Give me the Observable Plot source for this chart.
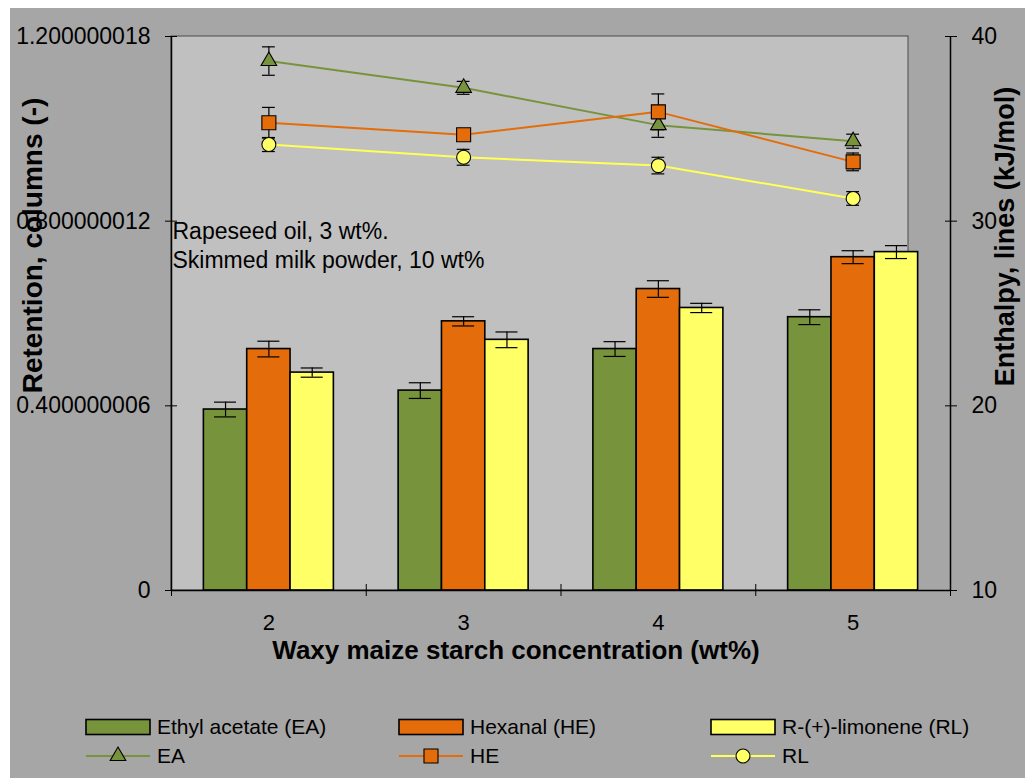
<!DOCTYPE html>
<html>
<head>
<meta charset="utf-8">
<script src="https://cdn.jsdelivr.net/npm/d3@7"></script>
<script src="https://cdn.jsdelivr.net/npm/@observablehq/plot@0.6"></script>
<style>
  html, body { margin: 0; padding: 0; background: #ffffff; }
  #wrap { position: absolute; left: 10px; top: 8px; width: 1015px; height: 770px; background: #a6a6a6; overflow: hidden; }
  #wrap svg { display: block; }
</style>
</head>
<body>
<div id="wrap"></div>
<script>
// ---------- data ----------
const categories = [2, 3, 4, 5];
const categoryBoundaries = [1.5, 2.5, 3.5, 4.5, 5.5];

const retentionEA = [0.392, 0.433, 0.523, 0.592];
const retentionHE = [0.523, 0.583, 0.653, 0.722];
const retentionRL = [0.472, 0.543, 0.612, 0.733];
const retentionErrEA = [0.016, 0.017, 0.016, 0.016];
const retentionErrHE = [0.017, 0.010, 0.018, 0.014];
const retentionErrRL = [0.010, 0.017, 0.010, 0.014];

const enthalpyEA = [38.67, 37.22, 35.2, 34.33];
const enthalpyHE = [35.33, 34.68, 35.92, 33.21];
const enthalpyRL = [34.15, 33.46, 33.01, 31.23];
const enthalpyErrEA = [0.77, 0.35, 0.66, 0.38];
const enthalpyErrHE = [0.83, 0.20, 0.97, 0.48];
const enthalpyErrRL = [0.38, 0.43, 0.45, 0.37];

const leftTicks = [0, 0.400000006, 0.800000012, 1.200000018];
const leftTickLabels = ["0", "0.400000006", "0.800000012", "1.200000018"];
const rightTicks = [10, 20, 30, 40];

const barSeriesNames = ["Ethyl acetate (EA)", "Hexanal (HE)", "R-(+)-limonene (RL)"];
const lineSeriesNames = ["EA", "HE", "RL"];

// ---------- styles ----------
const colors = ["#77933c", "#e46c0a", "#ffff66"];
const lineColors = ["#77933c", "#e46c0a", "#ffff55"];
const FONT = "'Liberation Sans', Arial, sans-serif";
const BW = 0.2225; // bar width as fraction of category step
const yMax = 1.200000018;
const eMin = 10, eMax = 40;
const toY = e => (e - eMin) / (eMax - eMin) * yMax;

// ---------- tables ----------
const retention = [retentionEA, retentionHE, retentionRL];
const retentionErr = [retentionErrEA, retentionErrHE, retentionErrRL];
const enthalpy = [enthalpyEA, enthalpyHE, enthalpyRL];
const enthalpyErr = [enthalpyErrEA, enthalpyErrHE, enthalpyErrRL];

const bars = [];
categories.forEach((c, i) => {
  retention.forEach((arr, s) => {
    bars.push({cat: c, s, series: barSeriesNames[s], value: arr[i],
      lo: arr[i] - retentionErr[s][i], hi: arr[i] + retentionErr[s][i]});
  });
});
const pts = [];
enthalpy.forEach((arr, s) => {
  categories.forEach((c, i) => {
    pts.push({cat: c, s, series: lineSeriesNames[s], e: arr[i], value: toY(arr[i]),
      lo: toY(arr[i] - enthalpyErr[s][i]), hi: toY(arr[i] + enthalpyErr[s][i])});
  });
});

const leftLabelMap = new Map(leftTicks.map((t, i) => [t, leftTickLabels[i]]));
const rightLabelMap = new Map(rightTicks.map(t => [toY(t), String(t)]));

const barCap = 0.0565, lineCap = 0.033;
const symbols = ["triangle", "square", "circle"];
const radii = [5.8, 7.9, 7.0];

const marks = [
  // bars
  Plot.rectY(bars, {
    x1: d => d.cat + (d.s - 1.5) * BW, x2: d => d.cat + (d.s - 0.5) * BW,
    y1: 0, y2: "value", fill: d => colors[d.s], stroke: "#000", strokeWidth: 1.6
  }),
  // bar error bars
  Plot.ruleX(bars, {x: d => d.cat + (d.s - 1) * BW, y1: "lo", y2: "hi", stroke: "#000", strokeWidth: 1.2}),
  Plot.ruleY(bars, {y: "lo", x1: d => d.cat + (d.s - 1) * BW - barCap, x2: d => d.cat + (d.s - 1) * BW + barCap, stroke: "#000", strokeWidth: 1.2}),
  Plot.ruleY(bars, {y: "hi", x1: d => d.cat + (d.s - 1) * BW - barCap, x2: d => d.cat + (d.s - 1) * BW + barCap, stroke: "#000", strokeWidth: 1.2}),
  // lines
  ...[0, 1, 2].map(s => Plot.line(pts.filter(d => d.s === s), {x: "cat", y: "value", stroke: lineColors[s], strokeWidth: 2})),
  // line error bars
  Plot.ruleX(pts, {x: "cat", y1: "lo", y2: "hi", stroke: "#000", strokeWidth: 1.2}),
  Plot.ruleY(pts, {y: "lo", x1: d => d.cat - lineCap, x2: d => d.cat + lineCap, stroke: "#000", strokeWidth: 1.2}),
  Plot.ruleY(pts, {y: "hi", x1: d => d.cat - lineCap, x2: d => d.cat + lineCap, stroke: "#000", strokeWidth: 1.2}),
  // markers
  ...[0, 1, 2].map(s => Plot.dot(pts.filter(d => d.s === s), {x: "cat", y: "value", symbol: symbols[s], r: radii[s], fill: colors[s], stroke: "#000", strokeWidth: 1.1})),
  // axis lines
  Plot.ruleY([0], {stroke: "#000", strokeWidth: 1.5}),
  Plot.ruleX([1.5], {stroke: "#000", strokeWidth: 1.5}),
  Plot.ruleX([5.5], {stroke: "#000", strokeWidth: 1.5}),
  // axes
  Plot.axisY(leftTicks, {anchor: "left", label: null, tickFormat: d => leftLabelMap.get(d), tickSize: 12, dx: 6, tickPadding: 15, fontSize: 23, fill: "#000", stroke: "#000"}),
  Plot.axisY(rightTicks.map(toY), {anchor: "right", label: null, tickFormat: d => rightLabelMap.get(d), tickSize: 12, dx: -6, tickPadding: 15, fontSize: 23, fill: "#000", stroke: "#000"}),
  Plot.axisX(categories, {anchor: "bottom", label: null, tickSize: 0, tickPadding: 24, tickFormat: d => String(d), fontSize: 22, fill: "#000"}),
  Plot.axisX(categoryBoundaries, {anchor: "bottom", label: null, tickSize: 12, dy: -6, tickFormat: () => "", stroke: "#000"}),
  // titles
  Plot.text(["Waxy maize starch concentration (wt%)"], {text: d => d, frameAnchor: "bottom", textAnchor: "middle", dx: -45, dy: 60, lineAnchor: "middle", fontSize: 26, fontWeight: "bold", fill: "#000"}),
  Plot.text(["Retention, columns (-)"], {text: d => d, frameAnchor: "left", textAnchor: "middle", dx: -138, dy: -68, rotate: -90, lineAnchor: "middle", fontSize: 28, fontWeight: "bold", fill: "#000"}),
  Plot.text(["Enthalpy, lines (kJ/mol)"], {text: d => d, frameAnchor: "right", textAnchor: "middle", dx: 55, dy: -77, rotate: -90, lineAnchor: "middle", fontSize: 27, fontWeight: "bold", fill: "#000"}),
  // annotation
  Plot.text(["Rapeseed oil, 3 wt%.\nSkimmed milk powder, 10 wt%"], {text: d => d, frameAnchor: "top-left", textAnchor: "start", lineAnchor: "top", dx: 1, dy: 182, lineHeight: 1.27, fontSize: 23, fill: "#000"})
];

const plot = Plot.plot({
  width: 1015, height: 680,
  marginLeft: 161, marginRight: 75, marginTop: 28, marginBottom: 98,
  x: {domain: [1.5, 5.5]},
  y: {domain: [0, yMax]},
  style: {background: "transparent", fontFamily: FONT, color: "#000", overflow: "visible"},
  marks
});

// light-grey plot area (Excel-style inner panel)
d3.select(plot).insert("rect", "g")
  .attr("x", 161).attr("y", 28).attr("width", 737).attr("height", 554)
  .attr("fill", "#c0c0c0").attr("stroke", "#4a4a4a").attr("stroke-width", 1);

document.getElementById("wrap").appendChild(plot);

// ---------- legend ----------
const lg = d3.select("#wrap").append("svg").attr("width", 1015).attr("height", 90)
  .style("font-family", FONT);
const legendX = [76, 389, 701];
const swW = 64;
barSeriesNames.forEach((name, s) => {
  lg.append("rect").attr("x", legendX[s]).attr("y", 31.5).attr("width", swW).attr("height", 15)
    .attr("fill", colors[s]).attr("stroke", "#000").attr("stroke-width", 1.6);
  lg.append("text").attr("x", legendX[s] + swW + 7).attr("y", 39).attr("dy", "0.35em")
    .attr("font-size", 21).attr("fill", "#000").text(name);
});
lineSeriesNames.forEach((name, s) => {
  lg.append("line").attr("x1", legendX[s]).attr("x2", legendX[s] + swW).attr("y1", 68).attr("y2", 68)
    .attr("stroke", lineColors[s]).attr("stroke-width", 2);
  const sym = [d3.symbolTriangle, d3.symbolSquare, d3.symbolCircle][s];
  lg.append("path").attr("d", d3.symbol(sym, Math.PI * radii[s] * radii[s])())
    .attr("transform", `translate(${legendX[s] + swW / 2},68)`)
    .attr("fill", colors[s]).attr("stroke", "#000").attr("stroke-width", 1.1);
  lg.append("text").attr("x", legendX[s] + swW + 7).attr("y", 68).attr("dy", "0.35em")
    .attr("font-size", 21).attr("fill", "#000").text(name);
});
</script>
</body>
</html>
